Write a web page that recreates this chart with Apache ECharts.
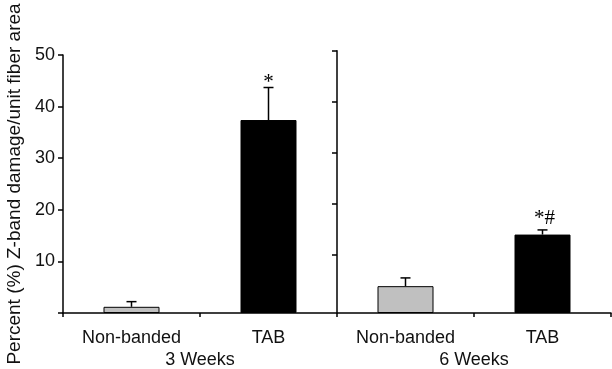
<!DOCTYPE html>
<html>
<head>
<meta charset="utf-8">
<script src="https://cdn.jsdelivr.net/npm/echarts@6/dist/echarts.min.js"></script>
<style>html,body{margin:0;padding:0;background:#fff;}#c{width:612px;height:369px;}</style>
</head>
<body>
<div id="c"></div>
<script>
const categories = ['Non-banded', 'TAB', 'Non-banded', 'TAB'];
const groups = ['3 Weeks', '6 Weeks'];
const means = [1.2, 37.4, 5.2, 15.2];
const errTop = [2.2, 43.7, 6.8, 16.1];
const marks = ['', '*', '', '*#'];
const yTicks = [0, 10, 20, 30, 40, 50];
const yTitle = 'Percent (%) Z-band damage/unit fiber area';

const FONT = 'Liberation Sans, Arial, sans-serif';
const chart = echarts.init(document.getElementById('c'), null, {renderer: 'canvas'});
const axisLineStyle = {color: '#000', width: 1.5};

chart.setOption({
  animation: false,
  backgroundColor: '#fff',
  grid: [
    {left: 63, right: 1, top: 55, bottom: 56},
    {left: 337, width: 100, top: 50.7, bottom: 56}
  ],
  xAxis: [
    {gridIndex: 0, type: 'category', data: categories, position: 'bottom',
     axisLine: {show: true, lineStyle: axisLineStyle},
     axisTick: {show: true, length: 4, lineStyle: axisLineStyle},
     axisLabel: {color: '#111', fontSize: 18, margin: 16, fontFamily: FONT}},
    {gridIndex: 0, type: 'category', data: groups, position: 'bottom',
     axisLine: {show: false}, axisTick: {show: false},
     axisLabel: {color: '#111', fontSize: 18, margin: 38, fontFamily: FONT}},
    {gridIndex: 1, type: 'category', data: [''], show: false}
  ],
  yAxis: [
    {gridIndex: 0, type: 'value', min: yTicks[0], max: yTicks[yTicks.length - 1], interval: 10,
     axisLine: {show: true, lineStyle: axisLineStyle},
     axisTick: {show: true, length: 5, lineStyle: axisLineStyle},
     splitLine: {show: false},
     axisLabel: {color: '#111', fontSize: 18, margin: 8, fontFamily: FONT,
                 formatter: v => (v === 0 ? '' : String(v))}},
    {gridIndex: 1, type: 'value', min: -1.3, max: 50,
     axisLine: {show: true, lineStyle: axisLineStyle},
     axisTick: {show: true, length: 5, lineStyle: axisLineStyle, customValues: yTicks.slice(1)},
     splitLine: {show: false},
     axisLabel: {show: false}}
  ],
  series: [
    {type: 'bar', xAxisIndex: 0, yAxisIndex: 0, barWidth: 56,
     data: means.map((v, i) => ({value: v,
       itemStyle: {color: categories[i] === 'TAB' ? '#000' : '#c0c0c0'}})),
     itemStyle: {borderColor: '#000', borderWidth: 1}},
    {type: 'custom', xAxisIndex: 0, yAxisIndex: 0, z: 5,
     data: errTop.map((e, i) => [i, means[i], e]),
     renderItem: function (params, api) {
       const base = api.coord([api.value(0), api.value(1)]);
       const top = api.coord([api.value(0), api.value(2)]);
       const mark = marks[params.dataIndex];
       const st = {stroke: '#000', lineWidth: 1.5};
       const children = [
         {type: 'line', shape: {x1: base[0], y1: base[1], x2: base[0], y2: top[1]}, style: st},
         {type: 'line', shape: {x1: base[0] - 5, y1: top[1], x2: base[0] + 5, y2: top[1]}, style: st}
       ];
       if (mark) {
         const single = mark.length === 1;
         children.push({type: 'text', x: base[0] + (single ? 0 : 2), y: top[1] + (single ? 5 : -1),
           style: {text: mark, fontSize: 21, fontFamily: 'Liberation Serif, Times New Roman, serif',
                   fill: '#000', align: 'center', verticalAlign: 'bottom'}});
       }
       return {type: 'group', children: children};
     }}
  ],
  graphic: [
    {type: 'text', x: 15, y: 184, rotation: Math.PI / 2,
     style: {text: yTitle, fontSize: 19, fontFamily: FONT, fill: '#111',
             align: 'center', verticalAlign: 'middle'}}
  ]
});
</script>
</body>
</html>
